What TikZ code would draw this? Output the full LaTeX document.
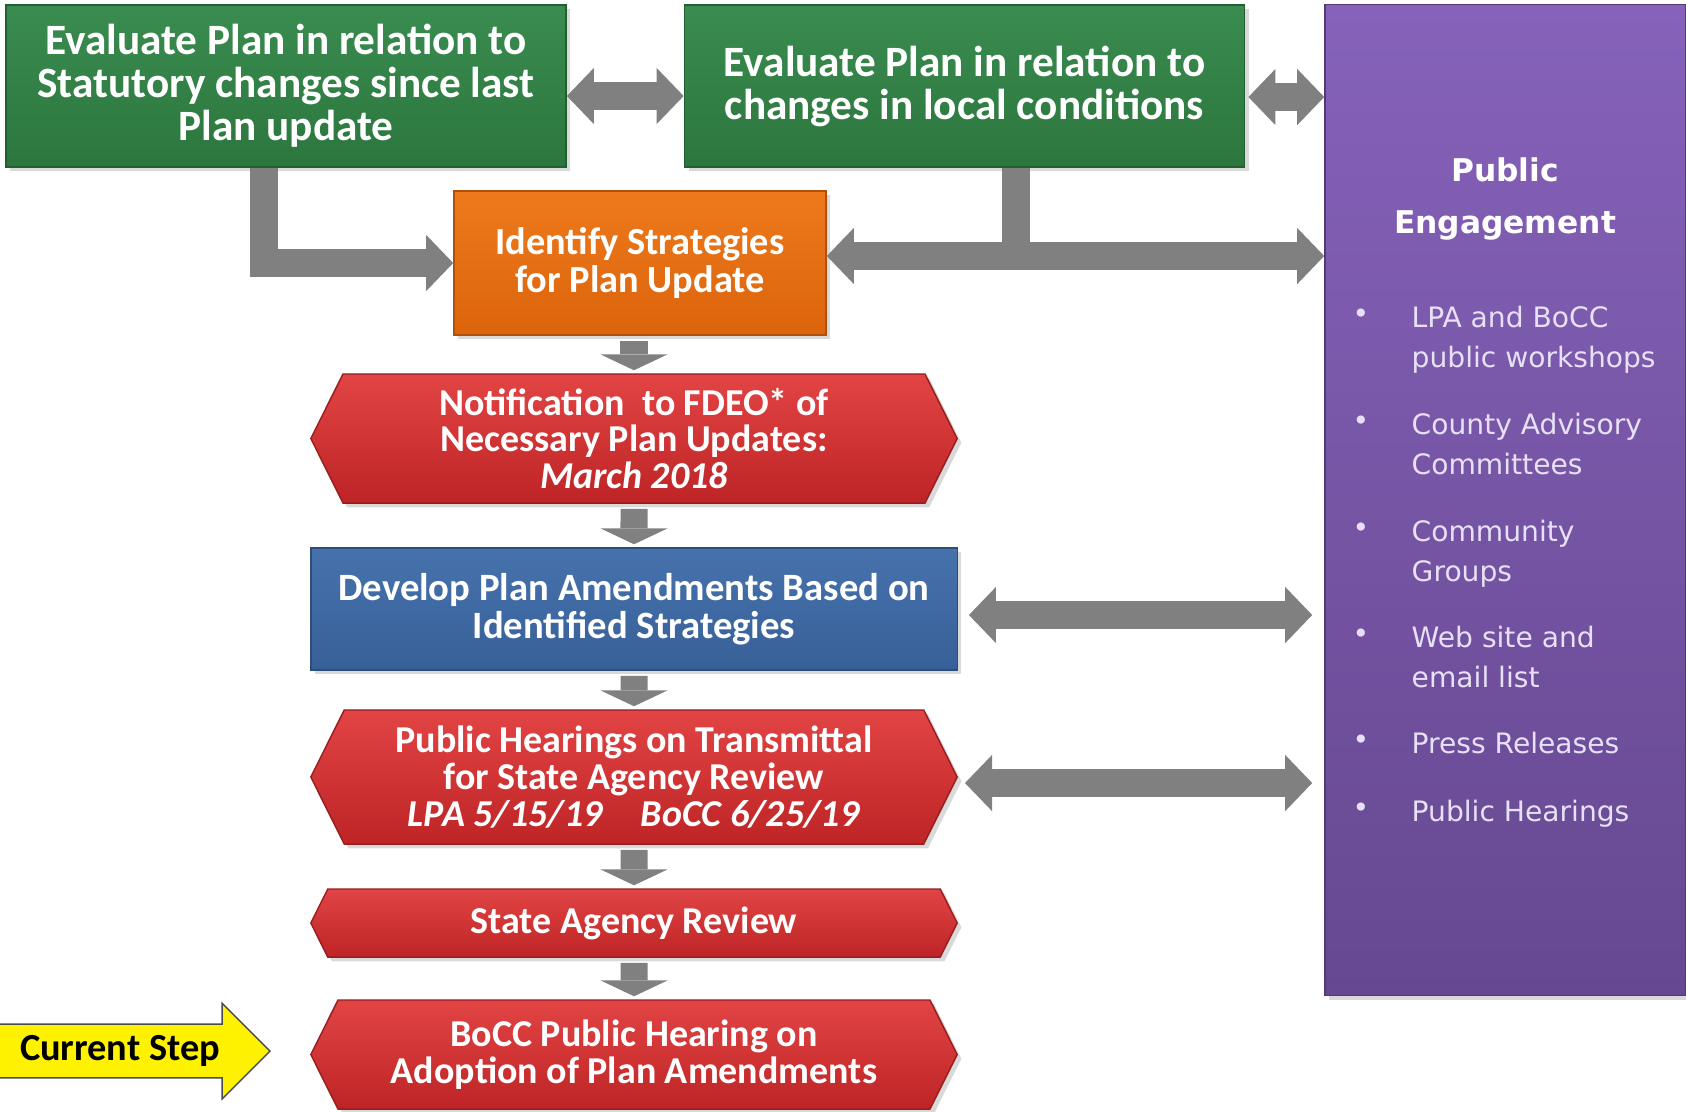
\documentclass[tikz,border=0pt]{standalone}
\usepackage{fontspec}
\setmainfont{Carlito}
\newfontfamily\pefont{DejaVu Sans}
\usetikzlibrary{arrows.meta,calc,shapes.symbols,shapes.arrows,shadows}

\definecolor{greentop}{RGB}{58,140,80}
\definecolor{greenbot}{RGB}{44,118,62}
\definecolor{orangetop}{RGB}{238,122,28}
\definecolor{orangebot}{RGB}{220,100,12}
\definecolor{redtop}{RGB}{226,68,68}
\definecolor{redbot}{RGB}{190,36,38}
\definecolor{bluetop}{RGB}{70,114,172}
\definecolor{bluebot}{RGB}{56,96,152}
\definecolor{pubtop}{RGB}{134,98,186}
\definecolor{pubbot}{RGB}{102,72,144}
\definecolor{fatgray}{RGB}{128,128,128}
\definecolor{lavender}{RGB}{232,224,246}

\tikzset{
  stepbox/.style={text=white, align=center, inner sep=0pt,
    drop shadow={opacity=0.3, shadow xshift=1.2pt, shadow yshift=-1.2pt}},
  greenbox/.style={stepbox, rectangle, top color=greentop, bottom color=greenbot, draw=greenbot!80!black,
    minimum width=5.6cm, minimum height=1.62cm, font=\fontsize{12.3}{12.2}\selectfont\bfseries},
  orangebox/.style={stepbox, rectangle, top color=orangetop, bottom color=orangebot, draw=orangebot!80!black,
    minimum width=3.72cm, minimum height=1.44cm, font=\fontsize{10.9}{11}\selectfont\bfseries},
  bluebox/.style={stepbox, rectangle, top color=bluetop, bottom color=bluebot, draw=bluebot!80!black,
    minimum width=6.46cm, minimum height=1.22cm, font=\fontsize{11}{10.7}\selectfont\bfseries},
  redbox/.style={stepbox, signal, signal to=east and west, signal pointer angle=127,
    top color=redtop, bottom color=redbot, draw=redbot!80!black,
    minimum width=6.46cm, font=\fontsize{10.8}{10.5}\selectfont\bfseries},
  pebox/.style={rectangle, top color=pubtop, bottom color=pubbot, draw=pubbot!80!black,
    minimum width=3.61cm, minimum height=9.9cm,
    drop shadow={opacity=0.3, shadow xshift=1.2pt, shadow yshift=-1.2pt}},
  pehead/.style={text=white, align=center, font=\pefont\bfseries\fontsize{8.9}{15}\selectfont},
  petext/.style={text=lavender, align=left, inner sep=0pt, font=\pefont\fontsize{8}{11.4}\selectfont},
  curstep/.style={single arrow, single arrow head extend=0.21cm, single arrow tip angle=90,
    minimum height=2.73cm, inner ysep=3pt, fill=yellow, draw=black!70,
    font=\fontsize{10.9}{12}\selectfont\bfseries},
  fatline/.style={draw=fatgray, line width=8pt},
  fatarrow/.style={fatline, -{Triangle[width=16pt,length=7.7pt,line width=0pt]}},
  fatboth/.style={fatline, {Triangle[width=16pt,length=7.7pt,line width=0pt]}-{Triangle[width=16pt,length=7.7pt,line width=0pt]}},
  fatdown/.style={draw=fatgray, line width=7.7pt, -{Triangle[width=19pt,length=4.5pt,line width=0pt]},
    shorten <=0.05cm, shorten >=0.03cm}
}

\begin{document}
\begin{tikzpicture}[x=0.01cm,y=-0.01cm]
	\useasboundingbox (0,0) rectangle (1686,1111);
	\node[greenbox] (g1) at (286,86) {Evaluate Plan in relation to\\Statutory changes since last\\Plan update};
	\node[greenbox] (g2) at (964.5,86) {Evaluate Plan in relation to\\changes in local conditions};
	\node[pebox] (pe) at (1505.5,500) {};
	\node[orangebox] (idst) at (640,263) {Identify Strategies\\for Plan Update};
	\node[redbox, minimum height=1.29cm] (notif) at (634,438.5) {Notification~ to FDEO* of\\Necessary Plan Updates:\\\textit{March 2018}};
	\node[bluebox] (dev) at (634,609) {Develop Plan Amendments Based on\\Identified Strategies};
	\node[redbox, minimum height=1.34cm] (hear) at (634,777) {Public Hearings on Transmittal\\for State Agency Review\\\textit{LPA 5/15/19\quad BoCC 6/25/19}};
	\node[redbox, minimum height=0.68cm] (review) at (634,923) {State Agency Review};
	\node[redbox, minimum height=1.09cm] (adopt) at (634,1054.5) {BoCC Public Hearing on\\Adoption of Plan Amendments};
	\node[curstep, anchor=tip] (cur) at (271,1051) {Current Step};
	\node[pehead] (pet) at (1505,199) {Public\\Engagement};
	\foreach \y/\txt [count=\i] in {316/{LPA and BoCC\\public workshops},423/{County Advisory\\Committees},530/{Community\\Groups},636/{Web site and\\email list},742/{Press Releases},810/{Public Hearings}}{
		\node[text=lavender, font=\pefont\fontsize{8}{10}\selectfont] (dot\i) at (1361,\y) {•};
		\node[petext, anchor=north west] (item\i) at (1411,{\y-11}) {\txt};
	}
	\coordinate (tj) at (1016,256);
	\draw[fatboth] ([yshift=-0.1cm]g1.east) -- ([yshift=-0.1cm]g2.west);
	\draw[fatboth, shorten <=0.03cm] ([yshift=-0.11cm]g2.east) -- ([yshift=-0.11cm]g2.east -| pe.west);
	\draw[fatarrow] ($(g1.south)+(-22,0)$) |- (idst.west);
	\draw[fatline] (g2.south -| tj) -- (tj);
	\draw[fatarrow] (tj) -- (tj -| idst.east);
	\draw[fatarrow] (tj) -- (tj -| pe.west);
	\draw[fatdown] (idst.south -| notif) -- (notif.north);
	\draw[fatdown] (notif) -- (dev);
	\draw[fatdown] (dev) -- (hear);
	\draw[fatdown] (hear) -- (review);
	\draw[fatdown] (review) -- (adopt);
	\draw[fatboth, shorten <=0.11cm, shorten >=0.12cm] ([yshift=-0.06cm]dev.east) -- ([yshift=-0.06cm]dev.east -| pe.west);
	\draw[fatboth, shorten <=0.07cm, shorten >=0.12cm] ([yshift=-0.06cm]hear.east) -- ([yshift=-0.06cm]hear.east -| pe.west);
\end{tikzpicture}
\end{document}
